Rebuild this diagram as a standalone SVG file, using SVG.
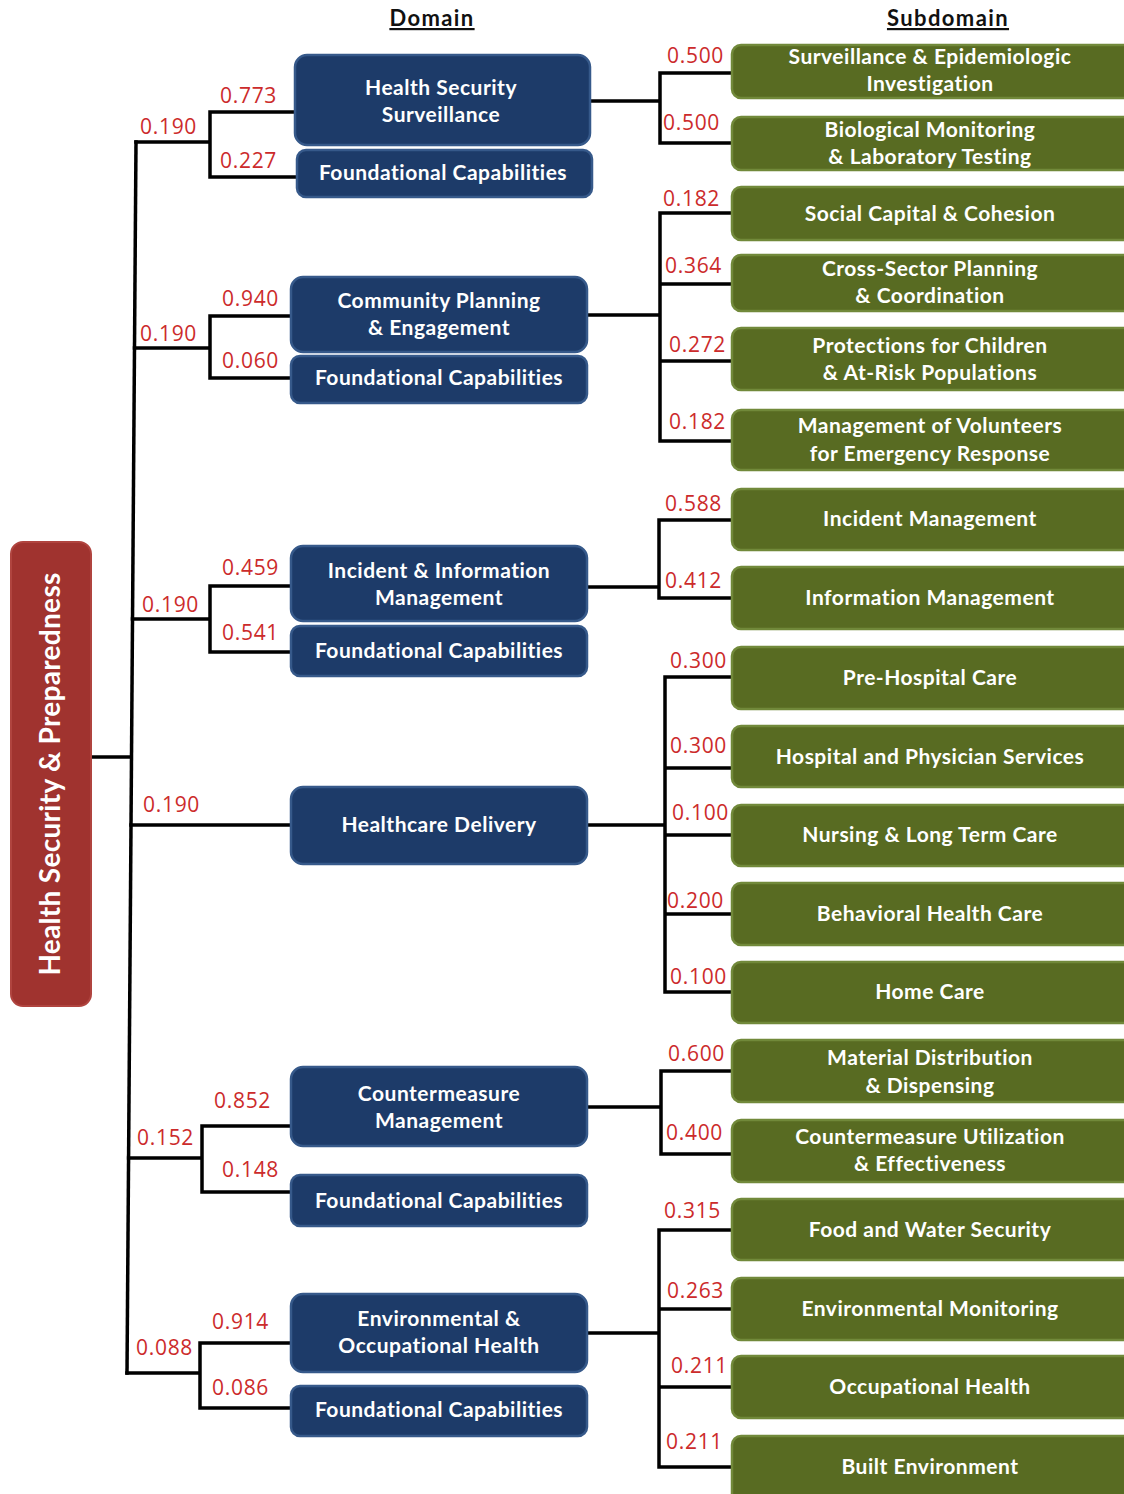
<svg xmlns="http://www.w3.org/2000/svg" width="1124" height="1494" viewBox="0 0 1124 1494">
<style>
.bg{fill:#ffffff}
.hdr{font-family:Lato,"Open Sans",sans-serif;font-weight:700;font-size:22px;letter-spacing:1.4px;fill:#111;text-anchor:middle;text-decoration:underline}
.dom rect{fill:#1d3b69;stroke:#36598a;stroke-width:2.5}
.sub rect{fill:#586b22;stroke:#71893a;stroke-width:2.5}
.root rect{fill:#a0332f;stroke:#b0443f;stroke-width:2}
.t{font-family:Lato,"Open Sans",sans-serif;font-weight:700;font-size:21px;letter-spacing:0.5px;fill:#ffffff;text-anchor:middle}
.rt{font-family:Lato,"Open Sans",sans-serif;font-weight:700;font-size:28px;letter-spacing:0.3px;fill:#ffffff;text-anchor:middle}
.w{font-family:"Open Sans",Lato,sans-serif;font-size:21px;letter-spacing:0.7px;fill:#cc2b2b}
.c{fill:none;stroke:#000;stroke-width:3.5;stroke-linecap:square}
</style>
<rect class="bg" x="0" y="0" width="1124" height="1494"/>
<text class="hdr" x="432" y="26">Domain</text>
<text class="hdr" x="948" y="26">Subdomain</text>

<g id="connectors">
<path class="c" d="M136,142 L127,1373"/>
<path class="c" d="M91,757 H131"/>
<path class="c" d="M136,142 H210 M210,112 V177 M210,112 H295 M210,177 H297"/>
<path class="c" d="M134.5,348 H210 M210,316 V378 M210,316 H291 M210,378 H291"/>
<path class="c" d="M132.5,619 H210 M210,586 V652 M210,586 H291 M210,652 H291"/>
<path class="c" d="M131,825 H291"/>
<path class="c" d="M128.6,1158 H202 M202,1126 V1192 M202,1126 H291 M202,1192 H291"/>
<path class="c" d="M127,1373 H200 M200,1343 V1408 M200,1343 H291 M200,1408 H291"/>
<path class="c" d="M590,101 H660 M660,73 V143 M660,73 H732 M660,143 H732"/>
<path class="c" d="M587,315 H660 M660,213 V441 M660,213 H732 M660,284 H732 M660,361 H732 M660,441 H732"/>
<path class="c" d="M587,587 H659 M659,520 V598 M659,520 H732 M659,598 H732"/>
<path class="c" d="M587,825 H665 M665,677 V992 M665,677 H732 M665,768 H732 M665,835 H732 M665,914 H732 M665,992 H732"/>
<path class="c" d="M587,1107 H661 M661,1071 V1154 M661,1071 H732 M661,1154 H732"/>
<path class="c" d="M587,1333 H659 M659,1230 V1467 M659,1230 H732 M659,1309 H732 M659,1387 H732 M659,1467 H732"/>
</g>

<g id="weights">
<text class="w" x="140" y="134">0.190</text>
<text class="w" x="220" y="103">0.773</text>
<text class="w" x="220" y="168">0.227</text>
<text class="w" x="140" y="341">0.190</text>
<text class="w" x="222" y="306">0.940</text>
<text class="w" x="222" y="368">0.060</text>
<text class="w" x="142" y="612">0.190</text>
<text class="w" x="222" y="575">0.459</text>
<text class="w" x="222" y="640">0.541</text>
<text class="w" x="143" y="812">0.190</text>
<text class="w" x="214" y="1108">0.852</text>
<text class="w" x="137" y="1145">0.152</text>
<text class="w" x="222" y="1177">0.148</text>
<text class="w" x="212" y="1329">0.914</text>
<text class="w" x="136" y="1355">0.088</text>
<text class="w" x="212" y="1395">0.086</text>
<text class="w" x="667" y="63">0.500</text>
<text class="w" x="663" y="130">0.500</text>
<text class="w" x="663" y="206">0.182</text>
<text class="w" x="665" y="273">0.364</text>
<text class="w" x="669" y="352">0.272</text>
<text class="w" x="669" y="429">0.182</text>
<text class="w" x="665" y="511">0.588</text>
<text class="w" x="665" y="588">0.412</text>
<text class="w" x="670" y="668">0.300</text>
<text class="w" x="670" y="753">0.300</text>
<text class="w" x="672" y="820">0.100</text>
<text class="w" x="667" y="908">0.200</text>
<text class="w" x="670" y="984">0.100</text>
<text class="w" x="668" y="1061">0.600</text>
<text class="w" x="666" y="1140">0.400</text>
<text class="w" x="664" y="1218">0.315</text>
<text class="w" x="667" y="1298">0.263</text>
<text class="w" x="671" y="1373">0.211</text>
<text class="w" x="666" y="1449">0.211</text>
</g>

<g id="root" class="root">
<rect x="11" y="542" width="80" height="464" rx="12"/>
<text class="rt" transform="translate(60,774) rotate(-90)">Health Security &amp; Preparedness</text>
</g>

<g id="d-hss" class="dom"><rect x="295" y="55" width="295" height="90" rx="12"/><text class="t" x="441" y="95">Health Security</text><text class="t" x="441" y="122">Surveillance</text></g>
<g id="d-hss-fc" class="dom"><rect x="297" y="150" width="295" height="47" rx="9"/><text class="t" x="443" y="180">Foundational Capabilities</text></g>
<g id="d-cpe" class="dom"><rect x="291" y="277" width="296" height="75" rx="12"/><text class="t" x="439" y="308">Community Planning</text><text class="t" x="439" y="335">&amp; Engagement</text></g>
<g id="d-cpe-fc" class="dom"><rect x="291" y="356" width="296" height="47" rx="9"/><text class="t" x="439" y="385">Foundational Capabilities</text></g>
<g id="d-iim" class="dom"><rect x="291" y="546" width="296" height="75" rx="12"/><text class="t" x="439" y="578">Incident &amp; Information</text><text class="t" x="439" y="605">Management</text></g>
<g id="d-iim-fc" class="dom"><rect x="291" y="626" width="296" height="50" rx="9"/><text class="t" x="439" y="658">Foundational Capabilities</text></g>
<g id="d-hd" class="dom"><rect x="291" y="787" width="296" height="77" rx="12"/><text class="t" x="439" y="832">Healthcare Delivery</text></g>
<g id="d-cm" class="dom"><rect x="291" y="1067" width="296" height="79" rx="12"/><text class="t" x="439" y="1101">Countermeasure</text><text class="t" x="439" y="1128">Management</text></g>
<g id="d-cm-fc" class="dom"><rect x="291" y="1175" width="296" height="51" rx="9"/><text class="t" x="439" y="1208">Foundational Capabilities</text></g>
<g id="d-eoh" class="dom"><rect x="291" y="1294" width="296" height="78" rx="12"/><text class="t" x="439" y="1326">Environmental &amp;</text><text class="t" x="439" y="1353">Occupational Health</text></g>
<g id="d-eoh-fc" class="dom"><rect x="291" y="1386" width="296" height="50" rx="9"/><text class="t" x="439" y="1417">Foundational Capabilities</text></g>

<g id="s1" class="sub"><rect x="732" y="45" width="400" height="53" rx="9"/><text class="t" x="930" y="64">Surveillance &amp; Epidemiologic</text><text class="t" x="930" y="91">Investigation</text></g>
<g id="s2" class="sub"><rect x="732" y="117" width="400" height="53" rx="9"/><text class="t" x="930" y="137">Biological Monitoring</text><text class="t" x="930" y="164">&amp; Laboratory Testing</text></g>
<g id="s3" class="sub"><rect x="732" y="187" width="400" height="53" rx="9"/><text class="t" x="930" y="221">Social Capital &amp; Cohesion</text></g>
<g id="s4" class="sub"><rect x="732" y="255" width="400" height="56" rx="9"/><text class="t" x="930" y="276">Cross-Sector Planning</text><text class="t" x="930" y="303">&amp; Coordination</text></g>
<g id="s5" class="sub"><rect x="732" y="328" width="400" height="62" rx="9"/><text class="t" x="930" y="353">Protections for Children</text><text class="t" x="930" y="380">&amp; At-Risk Populations</text></g>
<g id="s6" class="sub"><rect x="732" y="410" width="400" height="60" rx="9"/><text class="t" x="930" y="433">Management of Volunteers</text><text class="t" x="930" y="461">for Emergency Response</text></g>
<g id="s7" class="sub"><rect x="732" y="489" width="400" height="61" rx="9"/><text class="t" x="930" y="526">Incident Management</text></g>
<g id="s8" class="sub"><rect x="732" y="567" width="400" height="62" rx="9"/><text class="t" x="930" y="605">Information Management</text></g>
<g id="s9" class="sub"><rect x="732" y="647" width="400" height="62" rx="9"/><text class="t" x="930" y="685">Pre-Hospital Care</text></g>
<g id="s10" class="sub"><rect x="732" y="726" width="400" height="61" rx="9"/><text class="t" x="930" y="764">Hospital and Physician Services</text></g>
<g id="s11" class="sub"><rect x="732" y="805" width="400" height="61" rx="9"/><text class="t" x="930" y="842">Nursing &amp; Long Term Care</text></g>
<g id="s12" class="sub"><rect x="732" y="883" width="400" height="62" rx="9"/><text class="t" x="930" y="921">Behavioral Health Care</text></g>
<g id="s13" class="sub"><rect x="732" y="962" width="400" height="61" rx="9"/><text class="t" x="930" y="999">Home Care</text></g>
<g id="s14" class="sub"><rect x="732" y="1040" width="400" height="62" rx="9"/><text class="t" x="930" y="1065">Material Distribution</text><text class="t" x="930" y="1093">&amp; Dispensing</text></g>
<g id="s15" class="sub"><rect x="732" y="1120" width="400" height="62" rx="9"/><text class="t" x="930" y="1144">Countermeasure Utilization</text><text class="t" x="930" y="1171">&amp; Effectiveness</text></g>
<g id="s16" class="sub"><rect x="732" y="1199" width="400" height="61" rx="9"/><text class="t" x="930" y="1237">Food and Water Security</text></g>
<g id="s17" class="sub"><rect x="732" y="1278" width="400" height="62" rx="9"/><text class="t" x="930" y="1316">Environmental Monitoring</text></g>
<g id="s18" class="sub"><rect x="732" y="1356" width="400" height="62" rx="9"/><text class="t" x="930" y="1394">Occupational Health</text></g>
<g id="s19" class="sub"><rect x="732" y="1436" width="400" height="70" rx="9"/><text class="t" x="930" y="1474">Built Environment</text></g>
</svg>
